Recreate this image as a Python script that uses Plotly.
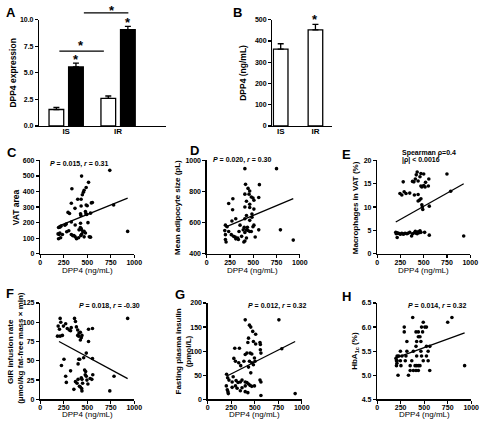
import plotly.graph_objects as go

W, H = 489, 425
FONT = "Liberation Sans, Arial, sans-serif"

# ---------------- data ----------------
groups = ["IS", "IR"]
a_white = [1.55, 2.6]
a_white_err = [0.2, 0.22]
a_black = [5.56, 9.07]
a_black_err = [0.35, 0.3]

b_vals = [362, 452]
b_err = [25, 26]

c_x = [740,440,337,514,489,467,459,448,331,399,435,489,500,555,544,296,312,370,435,429,481,486,495,535,432,781,930,331,372,429,508,195,209,223,263,277,201,190,209,195,217,236,282,304,331,345,372,386,359,413,427,435,440,454,467,440,432,481,467,522,535,408]
c_y = [536,499,418,459,426,408,395,379,325,350,350,313,309,330,327,266,259,292,307,257,272,257,253,261,247,313,144,204,185,196,200,169,171,179,183,191,124,128,134,97,103,124,142,148,124,117,109,97,117,154,169,163,154,140,109,126,117,134,144,109,107,103]
c_fit_x = [195, 930]
c_fit_y = [178, 358]

d_x = [410,750,930,792,417,566,444,462,410,455,479,497,507,427,462,559,281,236,278,410,462,507,486,427,410,462,486,312,271,201,219,194,201,236,264,288,306,333,312,340,375,410,427,444,462,479,497,507,437,392,427,410,399,559,521,201,208,358,347,403]
d_y = [947,947,488,554,846,844,820,803,783,783,765,758,744,738,718,762,754,723,683,701,697,687,656,646,625,615,635,625,611,584,574,549,523,543,523,512,508,502,496,492,512,537,554,550,543,543,574,584,570,554,502,482,476,554,508,492,476,584,543,570]
d_fit_x = [200, 930]
d_fit_y = [572, 755]

e_x = [430,470,420,500,460,410,440,380,395,280,520,350,290,245,265,310,400,440,470,480,500,515,550,555,455,440,470,560,480,485,490,750,790,
       200,210,220,230,240,250,265,280,290,300,320,330,215,350,370,400,410,420,440,450,460,470,510,560,930,380,205,430]
e_y = [17.5,17.2,16.9,17.1,16.5,16.0,15.6,15.5,15.4,15.4,15.3,13.0,13.3,12.9,12.6,12.9,12.6,12.7,14.5,14.3,14.6,14.3,14.5,16.0,11.5,11.3,11.8,10.2,10.5,10.0,9.5,17.1,13.4,
       4.6,4.5,4.4,4.4,4.3,4.2,4.4,4.2,4.3,4.4,4.3,4.4,3.5,4.6,3.8,4.5,4.8,4.4,4.7,4.5,4.9,4.6,4.6,4.0,3.8,4.3,4.3,4.3]
e_fit_x = [200, 930]
e_fit_y = [6.8, 15.0]

f_x = [212,219,191,205,184,212,236,247,271,288,309,323,330,365,375,385,399,413,427,437,427,410,514,556,514,399,444,253,226,271,278,323,375,392,403,417,427,437,444,451,441,410,403,420,472,483,479,490,497,507,549,559,531,556,490,462,358,740,785,930,444]
f_y = [105,100,95,91,82,82,83,95,98,92,90,89,93,105,101,94,90,86,87,80,77,82,91,92,75,83,83,52,44,30,22,37,23,21,26,17,16,28,26,21,14,52,46,52,38,36,32,30,25,20,26,32,27,53,60,54,13,11,30,105,11]
f_fit_x = [200, 930]
f_fit_y = [75, 27]

g_x = [399,757,444,458,479,510,434,427,510,556,486,560,288,337,399,417,451,469,560,566,788,278,295,330,351,385,444,469,486,503,497,434,458,201,212,226,271,260,302,323,347,365,399,417,434,399,451,469,497,556,566,295,260,198,208,215,219,313,399,427,566,930,365,347]
g_y = [165,165,154,150,141,135,127,118,115,118,120,114,106,106,93,96,96,94,103,96,105,85,79,76,70,79,79,76,72,79,86,67,55,52,45,40,47,36,39,35,36,40,36,35,32,28,29,27,28,40,36,28,25,28,20,16,12,23,16,14,8,12,24,18]
g_fit_x = [200, 930]
g_fit_y = [48, 120]

h_x = [378,795,750,288,288,490,507,524,472,413,438,483,438,455,316,420,465,524,560,413,247,316,385,465,542,212,229,264,306,420,472,524,212,247,299,368,490,542,205,253,351,403,420,438,455,930,351,385,413,438,559,222,333,200,205,210]
h_y = [6.2,6.2,6.1,6.0,5.9,6.1,6.0,6.0,6.0,5.9,5.9,5.9,5.8,5.8,5.7,5.7,5.7,5.6,5.6,5.6,5.5,5.5,5.5,5.5,5.5,5.4,5.4,5.4,5.4,5.4,5.4,5.4,5.3,5.3,5.3,5.3,5.3,5.3,5.2,5.2,5.2,5.2,5.2,5.2,5.2,5.2,5.1,5.1,5.1,5.1,5.1,5.0,5.0,5.35,5.3,5.25]
h_fit_x = [200, 930]
h_fit_y = [5.36, 5.88]

dpp4_ticks = [0, 250, 500, 750, 1000]

# ---------------- helpers ----------------
def px(x):
    return x / W

def py(y):
    return 1 - y / H

def axis(dom, rng, tickvals=None, ticktext=None, anchor=None, ticks="outside", fmt=None,
         size=7, standoff=0):
    d = dict(domain=dom, range=rng, showline=True, linecolor="black", linewidth=1.3,
             ticks=ticks, ticklen=3, tickwidth=1.3, tickcolor="black",
             showgrid=False, zeroline=False, fixedrange=True, ticklabelstandoff=standoff,
             tickfont=dict(family=FONT, size=size, color="black", weight="bold"))
    if tickvals is not None:
        d["tickmode"] = "array"
        d["tickvals"] = tickvals
        if ticktext is not None:
            d["ticktext"] = ticktext
    if anchor:
        d["anchor"] = anchor
    if fmt:
        d["tickformat"] = fmt
    return d

fig = go.Figure()
layout = dict(width=W, height=H, margin=dict(l=0, r=0, t=0, b=0),
              paper_bgcolor="white", plot_bgcolor="white", showlegend=False,
              font=dict(family=FONT, color="black"))

# Panel A (x,y)
layout["xaxis"] = axis([px(38), px(167)], [-0.519, 1.915], [0, 1], groups, "y", ticks="", size=8, standoff=-3)
layout["yaxis"] = axis([py(124), py(16)], [0, 10], [0, 2.5, 5, 7.5, 10], anchor="x", fmt=".1f")
# Panel B (x2,y2)
layout["xaxis2"] = axis([px(276), px(337)], [-0.24, 1.48], [0, 1], groups, "y2", ticks="", size=8, standoff=-3)
layout["yaxis2"] = axis([py(124), py(16)], [0, 500], [0, 100, 200, 300, 400, 500], anchor="x2")
# scatter panels
sc = {
    3: ([39, 135], [159, 254], [0, 600], [0, 100, 200, 300, 400, 500, 600], None),
    4: ([209, 304], [159, 254], [400, 1000], [400, 600, 800, 1000], None),
    5: ([383, 478], [159, 254], [0, 20], [0, 5, 10, 15, 20], None),
    6: ([39, 135], [304, 402], [0, 125], [0, 25, 50, 75, 100, 125], None),
    7: ([210, 306], [304, 402], [0, 200], [0, 50, 100, 150, 200], None),
    8: ([383, 479], [304, 402], [4.5, 6.5], [4.5, 5.0, 5.5, 6.0, 6.5], ".1f"),
}
for k, (xd, yd, yr, yt, fmt) in sc.items():
    layout[f"xaxis{k}"] = axis([px(xd[0]), px(xd[1])], [0, 1000], dpp4_ticks, anchor=f"y{k}", standoff=-2)
    layout[f"yaxis{k}"] = axis([py(yd[1]), py(yd[0])], yr, yt, anchor=f"x{k}", fmt=fmt)

# bars A
fig.add_trace(go.Bar(x=[0, 1], y=a_white, offset=-0.33, width=0.283, xaxis="x", yaxis="y",
                     marker=dict(color="white", line=dict(color="black", width=1.3)),
                     error_y=dict(type="data", array=a_white_err, arrayminus=[0, 0], symmetric=False,
                                  color="black", thickness=1.3, width=3)))
fig.add_trace(go.Bar(x=[0, 1], y=a_black, offset=0.047, width=0.283, xaxis="x", yaxis="y",
                     marker=dict(color="black", line=dict(color="black", width=1.3)),
                     error_y=dict(type="data", array=a_black_err, arrayminus=[0, 0], symmetric=False,
                                  color="black", thickness=1.3, width=3)))
# bars B
fig.add_trace(go.Bar(x=[0, 1], y=b_vals, width=0.42, xaxis="x2", yaxis="y2",
                     marker=dict(color="white", line=dict(color="black", width=1.3)),
                     error_y=dict(type="data", array=b_err, arrayminus=[0, 0], symmetric=False,
                                  color="black", thickness=1.3, width=3)))

scat = [(3, c_x, c_y, c_fit_x, c_fit_y), (4, d_x, d_y, d_fit_x, d_fit_y),
        (5, e_x, e_y, e_fit_x, e_fit_y), (6, f_x, f_y, f_fit_x, f_fit_y),
        (7, g_x, g_y, g_fit_x, g_fit_y), (8, h_x, h_y, h_fit_x, h_fit_y)]
for k, xs, ys, fx, fy in scat:
    fig.add_trace(go.Scatter(x=xs, y=ys, mode="markers", xaxis=f"x{k}", yaxis=f"y{k}",
                             marker=dict(color="black", size=3.6), cliponaxis=False))
    fig.add_trace(go.Scatter(x=fx, y=fy, mode="lines", xaxis=f"x{k}", yaxis=f"y{k}",
                             line=dict(color="black", width=1.3)))

ann = []
def text(x, y, t, size=8, bold=True, xanchor="center", yanchor="middle", angle=0):
    ann.append(dict(x=px(x), y=py(y), xref="paper", yref="paper", text=t, showarrow=False,
                    xanchor=xanchor, yanchor=yanchor, textangle=angle,
                    font=dict(family=FONT, size=size, color="#000000",
                              weight="bold" if bold else "normal")))

# panel letters
for letter, x, y in [("A", 2, 9), ("B", 234, 9), ("C", 3, 151), ("D", 190, 149), ("E", 345, 153),
                     ("F", 2, 294), ("G", 175, 295), ("H", 345, 297)]:
    text(x, y, letter, size=13, xanchor="left")

# y titles
text(11, 70, "DPP4 expression", size=8.5, angle=-90)
text(246, 70, "DPP4 (ng/mL)", size=8.5, angle=-90)
text(14, 207, "VAT area", size=8.5, angle=-90)
text(179, 207, "Mean adipocyte size (pL)", size=8, angle=-90)
text(361, 207, "Macrophages in VAT (%)", size=8, angle=-90)
text(8, 353, "GIR infusion rate", size=8, angle=-90)
text(19, 350, "(μmol/kg fat-free mass × min)", size=8, angle=-90)
text(180, 353, "Fasting plasma insulin", size=8, angle=-90)
text(190, 353, "(pmol/L)", size=8, angle=-90)
text(361, 353, "HbA<sub>1c</sub> (%)", size=8, angle=-90)

# x titles
for cx, cy in [(87, 271), (256, 271), (430, 271), (87, 417), (258, 417), (431, 417)]:
    text(cx, cy, "DPP4 (ng/mL)", size=8, bold=False)

# stats
text(47, 163, "<i>P</i> = 0.015, <i>r</i> = 0.31", size=7, xanchor="left")
text(213, 159, "<i>P</i> = 0.020, <i>r</i> = 0.30", size=7, xanchor="left")
text(406, 152, "Spearman ρ=0.4", size=7, xanchor="left")
text(406, 159, "|ρ| < 0.0016", size=7, xanchor="left")
text(143, 307, "<i>P</i> = 0.018, <i>r</i> = -0.30", size=7, xanchor="right")
text(313, 307, "<i>P</i> = 0.012, <i>r</i> = 0.32", size=7, xanchor="right")
text(477, 307, "<i>P</i> = 0.014, <i>r</i> = 0.32", size=7, xanchor="right")

# stars & significance lines
def star(xr, yr, x, y):
    ann.append(dict(x=x, y=y, xref=xr, yref=yr, text="*", showarrow=False, yanchor="middle",
                    font=dict(family=FONT, size=13, color="black", weight="bold")))
star("x", "y", 0.19, 6.3)
star("x", "y", 0.19 + 1, 9.75)
star("x", "y", 0.29, 7.55)
star("paper", "paper", px(107), py(7))
star("paper", "paper", px(320), py(16))

def hline(x1, y, length):
    ann.append(dict(x=x1, y=y, xref="paper", yref="paper", ax=-length, ay=0, axref="pixel",
                    ayref="pixel", text=" ", showarrow=True, arrowhead=0, arrowwidth=1.3,
                    arrowcolor="black", font=dict(size=1)))
hline(px(104), py(48), 46)
hline(px(129), py(9), 46)

layout["annotations"] = ann
fig.update_layout(**layout)
fig.write_html("out.html", config={"displayModeBar": False, "staticPlot": True},
               post_script="document.body.style.margin='0';document.body.style.padding='0';")
